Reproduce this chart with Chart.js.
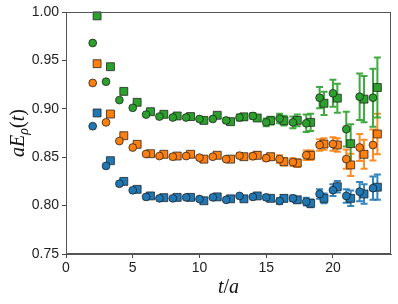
<!DOCTYPE html>
<html>
<head>
<meta charset="utf-8">
<script src="https://cdn.jsdelivr.net/npm/chart.js@4.4.1/dist/chart.umd.min.js"></script>
<style>
  html, body { margin: 0; padding: 0; background: #fff; }
</style>
</head>
<body>
<canvas id="chart" width="398" height="304"></canvas>
<script>
// time slices: circles sit on the integer t, squares are shifted a bit to the right
const tCircle = [2, 3, 4, 5, 6, 7, 8, 9, 10, 11, 12, 13, 14, 15, 16, 17, 18, 19, 20, 21, 22, 23];
const tSquare = [2.33, 3.33, 4.33, 5.33, 6.33, 7.33, 8.33, 9.33, 10.33, 11.33, 12.33, 13.33, 14.33, 15.33, 16.33, 17.33, 18.33, 19.33, 20.33, 21.33, 22.33, 23.33];

const blueCircle = [0.882, 0.841, 0.8226, 0.8158, 0.809, 0.8075, 0.8075, 0.8085, 0.8068, 0.8085, 0.806, 0.810, 0.809, 0.8085, 0.8047, 0.8075, 0.804, 0.812, 0.816, 0.810, 0.8144, 0.818];
const blueSquare = [0.8957, 0.8464, 0.825, 0.8168, 0.810, 0.8082, 0.8085, 0.8085, 0.805, 0.809, 0.807, 0.807, 0.810, 0.8075, 0.8075, 0.806, 0.8024, 0.8075, 0.8195, 0.8075, 0.812, 0.819];
const blueCircleErr = [0.0003, 0.0004, 0.0005, 0.0006, 0.0007, 0.0008, 0.0009, 0.001, 0.001, 0.0012, 0.0014, 0.0016, 0.002, 0.0025, 0.003, 0.003, 0.004, 0.005, 0.006, 0.007, 0.010, 0.012];
const blueSquareErr = [0.0003, 0.0004, 0.0005, 0.0006, 0.0007, 0.0008, 0.0009, 0.001, 0.001, 0.0012, 0.0014, 0.0016, 0.002, 0.0025, 0.003, 0.003, 0.004, 0.005, 0.006, 0.008, 0.010, 0.013];

const orangeCircle = [0.9267, 0.886, 0.8667, 0.860, 0.8533, 0.8512, 0.8505, 0.8512, 0.8495, 0.8505, 0.848, 0.8516, 0.851, 0.849, 0.848, 0.845, 0.852, 0.8626, 0.8636, 0.848, 0.860, 0.8626];
const orangeSquare = [0.9466, 0.8946, 0.8722, 0.8633, 0.8536, 0.853, 0.8512, 0.853, 0.848, 0.852, 0.848, 0.8505, 0.852, 0.8505, 0.8453, 0.844, 0.852, 0.8636, 0.8626, 0.842, 0.853, 0.874];
const orangeCircleErr = [0.0004, 0.0006, 0.0008, 0.001, 0.001, 0.001, 0.0012, 0.0015, 0.0015, 0.002, 0.002, 0.0025, 0.003, 0.003, 0.004, 0.004, 0.005, 0.006, 0.007, 0.010, 0.014, 0.016];
const orangeSquareErr = [0.0004, 0.0006, 0.0008, 0.001, 0.001, 0.001, 0.0012, 0.0015, 0.0015, 0.002, 0.002, 0.0025, 0.003, 0.003, 0.004, 0.004, 0.005, 0.006, 0.007, 0.0115, 0.015, 0.021];

const greenCircle = [0.968, 0.928, 0.909, 0.901, 0.894, 0.892, 0.891, 0.891, 0.8895, 0.8895, 0.888, 0.891, 0.8926, 0.886, 0.890, 0.886, 0.885, 0.9115, 0.916, 0.879, 0.9125, 0.9115];
const greenSquare = [0.996, 0.9435, 0.918, 0.9067, 0.897, 0.8943, 0.8926, 0.892, 0.888, 0.8933, 0.8867, 0.8917, 0.8905, 0.8877, 0.8877, 0.888, 0.886, 0.9057, 0.911, 0.864, 0.910, 0.922];
const greenCircleErr = [0.0005, 0.0008, 0.001, 0.001, 0.001, 0.0015, 0.0015, 0.002, 0.002, 0.002, 0.0025, 0.003, 0.003, 0.004, 0.005, 0.006, 0.009, 0.011, 0.014, 0.018, 0.024, 0.030];
const greenSquareErr = [0.0005, 0.0008, 0.001, 0.001, 0.0012, 0.0015, 0.0015, 0.002, 0.002, 0.002, 0.0025, 0.003, 0.003, 0.004, 0.005, 0.006, 0.009, 0.012, 0.015, 0.020, 0.024, 0.031];

const yTicks = [0.75, 0.80, 0.85, 0.90, 0.95, 1.00];
const xTicks = [0, 5, 10, 15, 20];

const BLUE = '#1f77b4', ORANGE = '#ff7f0e', GREEN = '#2ca02c';
const EDGE = 'rgba(30,30,30,0.85)';

function points(xs, ys) {
  return xs.map((x, i) => ({ x: x, y: ys[i] }));
}

function makeSet(xs, ys, errs, color, style) {
  return {
    data: points(xs, ys),
    errors: errs,
    barColor: color,
    pointStyle: style,
    pointRadius: style === 'rect' ? 5.6 : 3.9,
    pointBackgroundColor: color,
    pointBorderColor: EDGE,
    pointBorderWidth: 0.9,
    showLine: false,
    clip: false
  };
}

// vertical error bars with small caps, drawn under the markers
const errorBars = {
  id: 'errorBars',
  beforeDatasetsDraw(chart) {
    const ctx = chart.ctx;
    const xs = chart.scales.x, ys = chart.scales.y;
    chart.data.datasets.forEach(ds => {
      ctx.save();
      ctx.strokeStyle = ds.barColor;
      ctx.globalAlpha = 0.9;
      ctx.lineWidth = 2;
      ds.data.forEach((p, i) => {
        const e = ds.errors[i];
        const x = xs.getPixelForValue(p.x);
        const lo = ys.getPixelForValue(p.y - e);
        const hi = ys.getPixelForValue(p.y + e);
        if (Math.abs(lo - hi) < 4) return;
        ctx.beginPath();
        ctx.moveTo(x, lo); ctx.lineTo(x, hi);
        ctx.moveTo(x - 3.5, lo); ctx.lineTo(x + 3.5, lo);
        ctx.moveTo(x - 3.5, hi); ctx.lineTo(x + 3.5, hi);
        ctx.stroke();
      });
      ctx.restore();
    });
  }
};

// box round the plot plus the two axis titles (mathtext style)
const frameAndTitles = {
  id: 'frameAndTitles',
  afterDraw(chart) {
    const ctx = chart.ctx;
    const a = chart.chartArea;
    ctx.save();
    ctx.strokeStyle = '#555';
    ctx.lineWidth = 1;
    ctx.strokeRect(Math.round(a.left) + 0.5, Math.round(a.top) + 0.5,
                   Math.round(a.right - a.left) - 1, Math.round(a.bottom - a.top) - 1);

    const it = 'italic 20px "Liberation Serif"';
    const up = '20px "Liberation Serif"';
    const sub = 'italic 14px "Liberation Serif"';
    ctx.fillStyle = '#111';
    ctx.textBaseline = 'alphabetic';

    // y title: aE_rho(t)
    const yParts = [['a', it, 0], ['E', it, 0], ['\u03c1', sub, 4], ['(', up, 0], ['t', it, 0], [')', up, 0]];
    let w = 0;
    yParts.forEach(p => { ctx.font = p[1]; w += ctx.measureText(p[0]).width; });
    ctx.translate(24, (a.top + a.bottom) / 2);
    ctx.rotate(-Math.PI / 2);
    let x = -w / 2;
    yParts.forEach(p => {
      ctx.font = p[1];
      ctx.fillText(p[0], x, p[2]);
      x += ctx.measureText(p[0]).width;
    });
    ctx.setTransform(1, 0, 0, 1, 0, 0);

    // x title: t/a
    const xParts = [['t', it], ['/', up], ['a', it]];
    w = 0;
    xParts.forEach(p => { ctx.font = p[1]; w += ctx.measureText(p[0]).width; });
    x = (a.left + a.right) / 2 - w / 2;
    xParts.forEach(p => {
      ctx.font = p[1];
      ctx.fillText(p[0], x, 293);
      x += ctx.measureText(p[0]).width;
    });
    ctx.restore();
  }
};

new Chart(document.getElementById('chart'), {
  type: 'scatter',
  data: {
    datasets: [
      makeSet(tCircle, blueCircle, blueCircleErr, BLUE, 'circle'),
      makeSet(tSquare, blueSquare, blueSquareErr, BLUE, 'rect'),
      makeSet(tCircle, orangeCircle, orangeCircleErr, ORANGE, 'circle'),
      makeSet(tSquare, orangeSquare, orangeSquareErr, ORANGE, 'rect'),
      makeSet(tCircle, greenCircle, greenCircleErr, GREEN, 'circle'),
      makeSet(tSquare, greenSquare, greenSquareErr, GREEN, 'rect')
    ]
  },
  options: {
    responsive: false,
    animation: false,
    layout: { autoPadding: false, padding: { top: 12, right: 7, left: 0, bottom: 0 } },
    plugins: { legend: { display: false }, tooltip: { enabled: false } },
    scales: {
      x: {
        type: 'linear',
        min: 0,
        max: 24.35,
        afterBuildTicks: s => { s.ticks = xTicks.map(v => ({ value: v })); },
        afterFit: s => { s.height = 50; },
        grid: { drawOnChartArea: false, drawTicks: true, tickLength: 4, color: '#444' },
        border: { display: true, color: '#555' },
        ticks: { padding: 2, color: '#222', font: { family: 'Liberation Sans', size: 14 } }
      },
      y: {
        min: 0.75,
        max: 1.0,
        afterBuildTicks: s => { s.ticks = yTicks.map(v => ({ value: v })); },
        afterFit: s => { s.width = 66; },
        grid: { drawOnChartArea: false, drawTicks: true, tickLength: 4, color: '#444' },
        border: { display: true, color: '#555' },
        ticks: {
          padding: 3,
          color: '#222',
          font: { family: 'Liberation Sans', size: 14 },
          callback: v => Number(v).toFixed(2)
        }
      }
    }
  },
  plugins: [errorBars, frameAndTitles]
});
</script>
</body>
</html>
